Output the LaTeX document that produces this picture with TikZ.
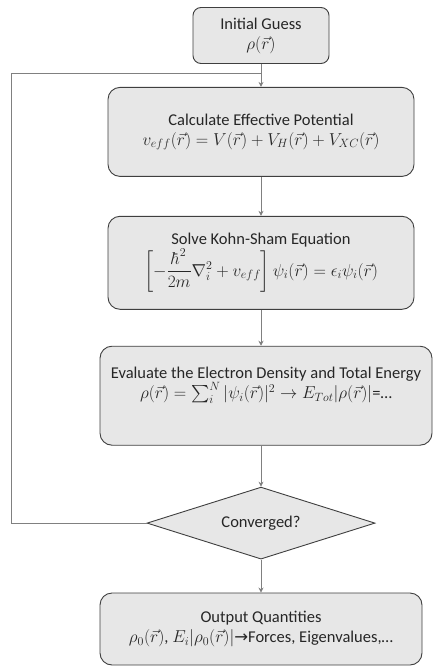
\documentclass[tikz,border=0pt]{standalone}
\usepackage{fontspec}
\usepackage{amsmath}
\setmainfont{Carlito}
\newfontfamily\arrowfont{DejaVu Sans}
\usetikzlibrary{positioning, arrows.meta, calc, shapes.geometric}
\definecolor{boxfill}{HTML}{E7E7E7}
\definecolor{boxline}{HTML}{3F3F3F}
\definecolor{flowline}{HTML}{808080}
\definecolor{textmain}{HTML}{262626}

\begin{document}
\begin{tikzpicture}[
        x=1pt, y=1pt,
        font=\fontsize{16.5}{20}\selectfont,
        stepbox/.style={rectangle, draw=boxline, fill=boxfill, text=textmain,
                    rounded corners=12pt, align=center, inner sep=1pt, line width=0.9pt},
        check/.style={diamond, aspect=3.17, draw=boxline, fill=boxfill, text=textmain,
                    minimum width=228pt, minimum height=72pt, inner sep=0pt, line width=0.9pt},
        arrow/.style={-{Stealth[length=5pt, width=5pt]}, flowline, line width=0.8pt},
        loop/.style={flowline, line width=0.8pt}
      ]
        \useasboundingbox (0,0) rectangle (433,-666);

        \node[stepbox, rounded corners=8pt, minimum width=136pt, minimum height=56pt] (init) at (261,-35.5)
            {Initial Guess\\ $\rho(\vec{r})$};
        \node[stepbox, minimum width=306pt, minimum height=89pt, below=23pt of init] (cep)
            {Calculate Effective Potential\\ $v_{eff}(\vec{r}) = V(\vec{r}) + V_H(\vec{r}) + V_{XC}(\vec{r})$};
        \node[stepbox, minimum width=306pt, minimum height=93pt, below=39pt of cep] (sks)
            {Solve Kohn-Sham Equation\\[1pt] $\left[-\dfrac{\hbar^2}{2m}\nabla_i^2 + v_{eff}\right]\psi_i(\vec{r}) = \epsilon_i\psi_i(\vec{r})$};
        \node[stepbox, minimum width=332pt, minimum height=99pt, below=36pt of sks, xshift=5pt] (eed)
            {Evaluate the Electron Density and Total Energy\\ $\rho(\vec{r}) = \sum_i^N |\psi_i(\vec{r})|^2 \rightarrow E_{Tot}|\rho(\vec{r})|$=\dots\\[6pt]\mbox{}};
        \node[check, below=41pt of eed.south -| init.south, anchor=north] (conv) {Converged?};
        \node[stepbox, minimum width=322pt, minimum height=72pt, below=33pt of conv] (out)
            {Output Quantities\\ $\rho_0(\vec{r})$, $E_i|\rho_0(\vec{r})|${\arrowfont →}Forces, Eigenvalues,\dots};

        \coordinate (merge) at ($(init.south)!0.43!(cep.north)$);

        \draw[arrow] (init) -- (cep);
        \draw[arrow] (cep) -- (sks);
        \draw[arrow] (sks) -- (sks.south |- eed.north);
        \draw[arrow] (eed.south -| conv.north) -- (conv);
        \draw[arrow] (conv) -- (out);
        \draw[loop] (conv.west) -- ++(-135,0) |- (merge);
      \end{tikzpicture}
\end{document}
